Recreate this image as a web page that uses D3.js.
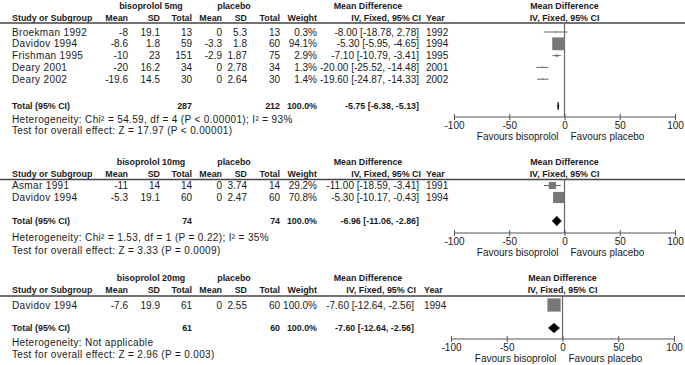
<!DOCTYPE html>
<html>
<head>
<meta charset="utf-8">
<script src="https://cdn.jsdelivr.net/npm/d3@7"></script>
<style>
  body { margin: 0; background: #fff; }
  text { font-family: "Liberation Sans", Arial, sans-serif; font-size: 10px; fill: #1a1a1a; }
  .b { font-weight: bold; font-size: 8.9px; }
  .note { letter-spacing: 0.35px; }
</style>
</head>
<body>
<script>
// one entry per subgroup panel
const groupLabels = ["bisoprolol 5mg", "bisoprolol 10mg", "bisoprolol 20mg"];
const studyNames = [
  ["Broekman 1992", "Davidov 1994", "Frishman 1995", "Deary 2001", "Deary 2002"],
  ["Asmar 1991", "Davidov 1994"],
  ["Davidov 1994"]
];
const trtMean = [[-8, -8.6, -10, -20, -19.6], [-11, -5.3], [-7.6]];
const trtSD = [[19.1, 1.8, 23, 16.2, 14.5], [14, 19.1], [19.9]];
const trtN = [[13, 59, 151, 34, 30], [14, 60], [61]];
const plcMean = [[0, -3.3, -2.9, 0, 0], [0, 0], [0]];
const plcSD = [["5.3", "1.8", "1.87", "2.78", "2.64"], ["3.74", "2.47"], ["2.55"]];
const plcN = [[13, 60, 75, 34, 30], [14, 60], [60]];
const weights = [[0.3, 94.1, 2.9, 1.3, 1.4], [29.2, 70.8], [100.0]];
const md = [[-8.00, -5.30, -7.10, -20.00, -19.60], [-11.00, -5.30], [-7.60]];
const ciLo = [[-18.78, -5.95, -10.79, -25.52, -24.87], [-18.59, -10.17], [-12.64]];
const ciHi = [[2.78, -4.65, -3.41, -14.48, -14.33], [-3.41, -0.43], [-2.56]];
const years = [[1992, 1994, 1995, 2001, 2002], [1991, 1994], [1994]];

const totalTrtN = [287, 74, 61];
const totalPlcN = [212, 74, 60];
const totalMD = [-5.75, -6.96, -7.60];
const totalLo = [-6.38, -11.06, -12.64];
const totalHi = [-5.13, -2.86, -2.56];
const heterogeneity = [
  "Heterogeneity: Chi\u00b2 = 54.59, df = 4 (P < 0.00001); I\u00b2 = 93%",
  "Heterogeneity: Chi\u00b2 = 1.53, df = 1 (P = 0.22); I\u00b2 = 35%",
  "Heterogeneity: Not applicable"
];
const overallEffect = [
  "Test for overall effect: Z = 17.97 (P < 0.00001)",
  "Test for overall effect: Z = 3.33 (P = 0.0009)",
  "Test for overall effect: Z = 2.96 (P = 0.003)"
];
const axisTicks = [-100, -50, 0, 50, 100];
const favourLabels = ["Favours bisoprolol", "Favours placebo"];

// layout of each panel (the three panels were pasted together, slightly different scales)
const layout = [
  { label: 6, head: 17.5, line: 23, row: 32, step: 11.8, total: 106, het: 119, test: 130.5, axis: 117, x0: 454, x1: 675, ciRight: 419, yearX: 426 },
  { label: 162, head: 173.5, line: 179.5, row: 185.5, step: 12, total: 221, het: 237, test: 250, axis: 233, x0: 454, x1: 675, ciRight: 419, yearX: 426 },
  { label: 278, head: 290, line: 296, row: 305, step: 12, total: 328, het: 342, test: 354, axis: 339, x0: 451, x1: 674, ciRight: 414, yearX: 424 }
];

const loc = d3.formatLocale({ decimal: ".", thousands: ",", grouping: [3], currency: ["", ""], minus: "-" });
const f2 = loc.format(".2f");
const f1 = loc.format(".1f");
const fn = v => String(v);

const svg = d3.select("body").append("svg")
  .attr("width", 685)
  .attr("height", 365);

const size = d3.scaleSqrt().domain([0, 100]).range([0, 13.2]);

// table column right edges
const cols = { mean: 128, sd: 160, n: 192, pmean: 222, psd: 247, pn: 280, w: 317 };

groupLabels.forEach((label, p) => {
  const L = layout[p];
  const g = svg.append("g");
  const x = d3.scaleLinear().domain([-100, 100]).range([L.x0, L.x1]);
  const zero = x(0);

  const txt = (tx, ty, s, anchor, cls) => g.append("text")
    .attr("x", tx).attr("y", ty).attr("dy", "0.35em")
    .attr("text-anchor", anchor || "start")
    .attr("class", cls || null)
    .text(s);

  // headers
  txt(151, L.label, label, "middle", "b");
  txt(234, L.label, "placebo", "middle", "b");
  txt(368, L.label, "Mean Difference", "middle", "b");
  txt(zero, L.label, "Mean Difference", "middle", "b");

  txt(12, L.head, "Study or Subgroup", "start", "b");
  txt(cols.mean, L.head, "Mean", "end", "b");
  txt(cols.sd, L.head, "SD", "end", "b");
  txt(cols.n, L.head, "Total", "end", "b");
  txt(cols.pmean, L.head, "Mean", "end", "b");
  txt(cols.psd, L.head, "SD", "end", "b");
  txt(cols.pn, L.head, "Total", "end", "b");
  txt(cols.w, L.head, "Weight", "end", "b");
  txt(L.ciRight + 2, L.head, "IV, Fixed, 95% CI", "end", "b");
  txt(L.yearX, L.head, "Year", "start", "b");
  txt(zero, L.head, "IV, Fixed, 95% CI", "middle", "b");

  g.append("line")
    .attr("x1", 0).attr("x2", 685)
    .attr("y1", L.line).attr("y2", L.line)
    .attr("stroke", "#444").attr("stroke-width", 1.4);

  // study rows
  studyNames[p].forEach((name, i) => {
    const y = L.row + i * L.step;
    txt(12, y, name, "start", "note");
    txt(cols.mean, y, fn(trtMean[p][i]), "end");
    txt(cols.sd, y, fn(trtSD[p][i]), "end");
    txt(cols.n, y, fn(trtN[p][i]), "end");
    txt(cols.pmean, y, fn(plcMean[p][i]), "end");
    txt(cols.psd, y, plcSD[p][i], "end");
    txt(cols.pn, y, fn(plcN[p][i]), "end");
    txt(cols.w, y, f1(weights[p][i]) + "%", "end");
    txt(L.ciRight, y, f2(md[p][i]) + " [" + f2(ciLo[p][i]) + ", " + f2(ciHi[p][i]) + "]", "end");
    txt(L.yearX, y, fn(years[p][i]));
  });

  // total row
  txt(12, L.total, "Total (95% CI)", "start", "b");
  txt(cols.n, L.total, fn(totalTrtN[p]), "end", "b");
  txt(cols.pn, L.total, fn(totalPlcN[p]), "end", "b");
  txt(cols.w, L.total, "100.0%", "end", "b");
  txt(L.ciRight, L.total, f2(totalMD[p]) + " [" + f2(totalLo[p]) + ", " + f2(totalHi[p]) + "]", "end", "b");
  txt(12, L.het, heterogeneity[p], "start", "note");
  txt(12, L.test, overallEffect[p], "start", "note");

  // zero line
  g.append("line")
    .attr("x1", zero).attr("x2", zero)
    .attr("y1", L.line).attr("y2", L.axis)
    .attr("stroke", "#666").attr("stroke-width", 1.2);

  // confidence intervals and squares
  const rows = studyNames[p].map((n, i) => ({ i, md: md[p][i], lo: ciLo[p][i], hi: ciHi[p][i], w: weights[p][i] }));
  g.selectAll(".ci").data(rows).join("line")
    .attr("class", "ci")
    .attr("x1", d => x(d.lo)).attr("x2", d => x(d.hi))
    .attr("y1", d => L.row + d.i * L.step).attr("y2", d => L.row + d.i * L.step)
    .attr("stroke", "#666").attr("stroke-width", 1);
  g.selectAll(".sq").data(rows).join("rect")
    .attr("class", "sq")
    .attr("x", d => x(d.md) - Math.max(size(d.w), 1.5) / 2)
    .attr("y", d => L.row + d.i * L.step - Math.max(size(d.w), 1.5) / 2)
    .attr("width", d => Math.max(size(d.w), 1.5))
    .attr("height", d => Math.max(size(d.w), 1.5))
    .attr("fill", "#777");

  // pooled diamond
  const dh = p === 0 ? 4 : 4.8;
  g.append("path")
    .attr("d", "M" + x(totalLo[p]) + "," + L.total +
      "L" + x(totalMD[p]) + "," + (L.total - dh) +
      "L" + x(totalHi[p]) + "," + L.total +
      "L" + x(totalMD[p]) + "," + (L.total + dh) + "Z")
    .attr("fill", "#000").attr("stroke", "#000").attr("stroke-width", 0.6);

  // axis
  const ax = g.append("g")
    .attr("transform", "translate(0," + L.axis + ")")
    .call(d3.axisBottom(x).tickValues(axisTicks).tickSize(3).tickFormat(loc.format("d")));
  ax.select(".domain").attr("d", "M" + L.x0 + ",0H" + L.x1).attr("stroke", "#555");
  ax.selectAll(".tick line").attr("y1", -3).attr("y2", 3).attr("stroke", "#555");
  ax.selectAll(".tick text").attr("y", 4.5).attr("dy", "0.71em")
    .style("font-family", "'Liberation Sans', Arial, sans-serif").style("font-size", "10px").attr("fill", "#1a1a1a");

  txt(zero - 6, L.axis + 19, favourLabels[0], "end");
  txt(zero + 6, L.axis + 19, favourLabels[1], "start");
});
</script>
</body>
</html>
